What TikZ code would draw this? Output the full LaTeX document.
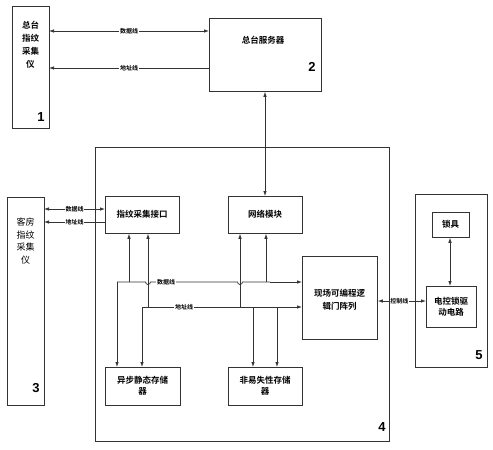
\documentclass[tikz,border=0pt]{standalone}
\usepackage{fontspec}
\newfontfamily\cjk{Noto Sans CJK SC}[BoldFont={* Bold}]
\newfontfamily\numfont{Liberation Sans}
\usetikzlibrary{arrows.meta}
\begin{document}
\begin{tikzpicture}[x=1pt,y=-1pt,
  line width=0.75pt, draw=black!80,
  box/.style={draw, rectangle, inner sep=0pt, anchor=north west},
  txt/.style={font=\cjk\bfseries\fontsize{8.5}{11}\selectfont, align=center, inner sep=0pt},
  lbl/.style={font=\cjk\bfseries\fontsize{6}{7}\selectfont, fill=white, inner sep=0.6pt},
  num/.style={font=\numfont\bfseries\fontsize{13}{13}\selectfont, inner sep=0pt},
  arr/.style={-{Latex[length=5pt,width=3.5pt]}},
  darr/.style={{Latex[length=5pt,width=3.5pt]}-{Latex[length=5pt,width=3.5pt]}}]
\useasboundingbox (0,0) rectangle (493,450);

% boxes
\node[box, minimum width=37pt, minimum height=122pt] (b1) at (12,6) {};
\node[box, minimum width=112pt, minimum height=73pt] (b2) at (209,18) {};
\node[box, minimum width=37pt, minimum height=208pt] (b3) at (7,197) {};
\node[box, minimum width=294pt, minimum height=294pt] (b4) at (95,147) {};
\node[box, minimum width=72pt, minimum height=173pt] (b5) at (415,194) {};
\node[box, minimum width=74pt, minimum height=37pt] (ifc) at (105,196) {};
\node[box, minimum width=74pt, minimum height=37pt] (net) at (228,196) {};
\node[box, minimum width=75pt, minimum height=83pt] (fpga) at (302,256) {};
\node[box, minimum width=75pt, minimum height=38pt] (sram) at (105,367) {};
\node[box, minimum width=74pt, minimum height=38pt] (nvm) at (228,367) {};
\node[box, minimum width=37pt, minimum height=25pt] (lock) at (432,212) {};
\node[box, minimum width=50pt, minimum height=41pt] (drv) at (426,286) {};

% texts
\node[txt, font=\cjk\bfseries\fontsize{8.5}{13}\selectfont] (t1) at (30.5,45) {总台\\指纹\\采集\\仪};
\node[txt] (t2) at (263,40) {总台服务器};
\node[txt, font=\cjk\fontsize{9}{12.5}\selectfont] (t3) at (25.5,241) {客房\\指纹\\采集\\仪};
\node[txt] (t4) at (142,214.5) {指纹采集接口};
\node[txt] (t5) at (265,214.5) {网络模块};
\node[txt, font=\cjk\bfseries\fontsize{8.5}{13}\selectfont] (t6) at (339.5,300) {现场可编程逻\\辑门阵列};
\node[txt] (t7) at (142.5,386) {异步静态存储\\器};
\node[txt] (t8) at (265,386) {非易失性存储\\器};
\node[txt] (t9) at (450.5,224.5) {锁具};
\node[txt] (t10) at (451,306.5) {电控锁驱\\动电路};

\node[num] (n1) at (41,117) {1};
\node[num] (n2) at (312,67) {2};
\node[num] (n3) at (36,388) {3};
\node[num] (n4) at (382,427) {4};
\node[num] (n5) at (479,355) {5};

% coordinates
\coordinate (b1d) at (49,31);
\coordinate (b2d) at (209,31);
\coordinate (b1a) at (49,68);
\coordinate (b2a) at (209,68);
\coordinate (b3d) at (44,209);
\coordinate (ifd) at (105,209);
\coordinate (b3a) at (44,222);
\coordinate (ifa) at (105,222);

% top links
\draw[darr] (b1d) -- node[lbl] (l1) {数据线} (b2d);
\draw[arr] (b2a) -- node[lbl] (l2) {地址线} (b1a);
\draw[darr] (b2.south -| 265,0) -- (net.north -| 265,0);
\draw[darr] (b3d) -- node[lbl] (l3) {数据线} (ifd);
\draw[arr] (ifa) -- node[lbl] (l4) {地址线} (b3a);

% data bus y=282 with hops at x=148 and 240
\coordinate (dbs) at (117,282);
\coordinate (dbe) at (302,282);
\draw (dbs) -- (145.5,282) arc[start angle=180,end angle=0,radius=2.5] -- (237.5,282) arc[start angle=180,end angle=0,radius=2.5] -- (270,282);
\draw[arr] (270,282) -- (dbe);
\node[lbl] (l5) at (166,282) {数据线};
% address bus y=307
\coordinate (abs) at (142,307);
\coordinate (abe) at (302,307);
\draw[arr] (abs) -- (abe);
\node[lbl] (l6) at (184,307) {地址线};

% verticals
\draw[arr] (117,282) -- (sram.north -| 117,0);
\draw[arr] (142,307) -- (sram.north -| 142,0);
\draw[arr] (129,282) -- (ifc.south -| 129,0);
\draw[arr] (148,307) -- (ifc.south -| 148,0);
\draw[arr] (240,307) -- (net.south -| 240,0);
\draw[arr] (266,282) -- (net.south -| 266,0);
\draw[arr] (253,307) -- (nvm.north -| 253,0);
\draw[arr] (277,307) -- (nvm.north -| 277,0);

% control line
\draw[darr] (fpga.east |- 0,301) -- node[lbl, pos=0.45] (l7) {控制线} (drv.west |- 0,301);
% lock link
\draw[darr] (lock.south -| 450,0) -- (drv.north -| 450,0);
\end{tikzpicture}
\end{document}
